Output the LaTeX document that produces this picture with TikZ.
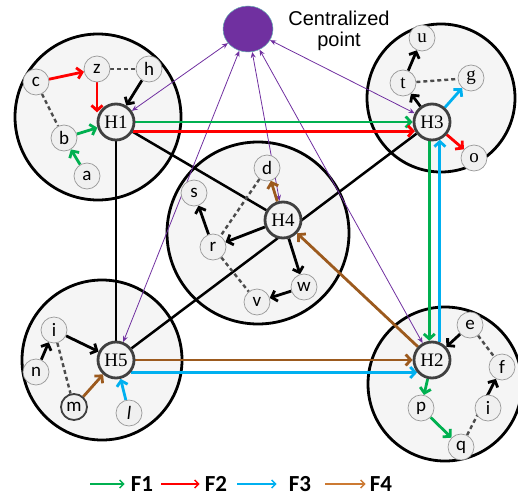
\documentclass[tikz,border=0pt]{standalone}
\usepackage{fontspec}
\setmainfont{Liberation Serif}
\newfontfamily\calfont{Carlito}
\newfontfamily\arialfont{Liberation Sans}
\usetikzlibrary{arrows.meta,calc,shapes.geometric}
\definecolor{fone}{HTML}{00B050}
\definecolor{ftwo}{HTML}{FF0000}
\definecolor{fthree}{HTML}{00B0F0}
\definecolor{ffour}{HTML}{9C5A1E}
\definecolor{ffourleg}{HTML}{CC7A33}
\definecolor{purp}{HTML}{7030A0}
\pgfdeclarelayer{bg}
\pgfdeclarelayer{edges}
\pgfsetlayers{bg,edges,main}
\begin{document}
\begin{tikzpicture}[x=1pt,y=-1pt,
 cluster/.style={circle,draw=black,line width=2.8pt,fill=black!4,minimum size=#1,inner sep=0pt},
 hub/.style={circle,draw=black!75,line width=2.8pt,fill=black!5,minimum size=36pt,inner sep=0pt,font=\fontsize{19}{19}\selectfont},
 leaf/.style={circle,draw=black!40,line width=0.7pt,fill=black!6,minimum size=26pt,inner sep=0pt,font=\calfont\fontsize{19}{19}\selectfont},
 serifleaf/.style={leaf,font=\fontsize{19}{19}\selectfont},
 flow/.style={line width=2.8pt,-{Straight Barb[length=5pt,width=11pt]}},
 blk/.style={flow,draw=black},
 link/.style={line width=2.5pt,draw=black},
 dsh/.style={line width=2.4pt,draw=black!70,dash pattern=on 4pt off 3pt},
 ctrl/.style={line width=0.8pt,draw=purp,{Stealth[length=6pt,width=5pt]}-{Stealth[length=6pt,width=5pt]}},
 legarrow/.style={line width=1.5pt,-{Straight Barb[length=4pt,width=8pt]}},
 legtext/.style={font=\calfont\bfseries\fontsize{23}{23}\selectfont,inner sep=2pt},
]
\useasboundingbox (0,0) rectangle (518,500);

% clusters
\begin{pgfonlayer}{bg}
\node[cluster=166pt] (C1) at (98,117) {};
\node[cluster=148pt] (C3) at (441,98) {};
\node[cluster=182pt] (C4) at (258,233) {};
\node[cluster=160pt] (C5) at (102,360) {};
\node[cluster=154pt] (C2) at (445,384) {};
\end{pgfonlayer}

% centralized point
\node[ellipse,fill=purp,draw=teal!60,line width=0.5pt,minimum width=50pt,minimum height=46pt] (P) at (248,29) {};
\node[font=\arialfont\fontsize{20}{21}\selectfont,align=center,inner sep=0pt] (Ptext) at (339,31) {Centralized\\point};

% hubs
\node[hub] (H1) at (116,122) {H1};
\node[hub] (H3) at (432,122) {H3};
\node[hub] (H4) at (283,220) {H4};
\node[hub] (H5) at (116,360) {H5};
\node[hub] (H2) at (432,360) {H2};

% H1 cluster
\node[leaf] (c) at (36,82) {c};
\node[leaf] (z) at (97,69) {z};
\node[leaf] (h) at (149,69) {h};
\node[leaf] (b) at (64,138) {b};
\node[leaf] (a) at (87,176) {a};
% H3 cluster
\node[serifleaf] (u) at (422,38) {u};
\node[serifleaf] (t) at (403,83) {t};
\node[serifleaf] (g) at (471,78) {g};
\node[serifleaf] (o) at (474,158) {o};
% H4 cluster
\node[leaf] (d) at (267,168) {d};
\node[leaf] (s) at (194,193) {s};
\node[leaf] (r) at (213,247) {r};
\node[leaf] (w) at (304,287) {w};
\node[leaf] (v) at (257,302) {v};
% H5 cluster
\node[leaf] (i) at (54,330) {i};
\node[leaf] (n) at (36,372) {n};
\node[leaf,draw=black!75,line width=1.8pt] (m) at (74,407) {m};
\node[leaf] (l) at (129,413) {\itshape l};
% H2 cluster
\node[leaf] (e) at (470,325) {e};
\node[leaf] (f) at (502,367) {f};
\node[leaf] (p) at (421,408) {p};
\node[leaf] (i2) at (488,408) {i};
\node[leaf] (q) at (461,447) {q};
\coordinate (qf) at ($(q)!0.55!(f)$);

\begin{pgfonlayer}{edges}
% inter-cluster black links
\draw[link] (H1) -- (H4);
\draw[link] (H1) -- (H5);
\draw[link] (H3) -- (H5);
% control links
\draw[ctrl] (P) -- (H1);
\draw[ctrl] (P) -- (H3);
\draw[ctrl] (P) -- (H4);
\draw[ctrl] (P) -- (H5);
\draw[ctrl] (P) -- (H2);
% H1 cluster
\draw[dsh] (z) -- (h);
\draw[dsh] (c) -- (b);
\draw[flow,ftwo] (c) -- (z);
\draw[flow,ftwo] (z) -- (z |- H1.150);
\draw[blk] (h) -- (H1);
\draw[flow,fone] (a) -- (b);
\draw[flow,fone] (b) -- (H1);
% H3 cluster
\draw[dsh] (t) -- (g);
\draw[blk] (H3) -- (t);
\draw[blk] (t) -- (u);
\draw[flow,fthree] (H3) -- (g);
\draw[flow,ftwo] (H3) -- (o);
% H4 cluster
\draw[dsh] (d) -- (r);
\draw[dsh] (r) -- (v);
\draw[flow,ffour] (H4) -- (d);
\draw[blk] (H4) -- (r);
\draw[blk] (r) -- (s);
\draw[blk] (H4) -- (w);
\draw[blk] (w) -- (v);
% H5 cluster
\draw[dsh] (i) -- (m);
\draw[blk] (n) -- (i);
\draw[blk] (i) -- (H5);
\draw[flow,ffour] (m) -- (H5);
\draw[flow,fthree] (l) -- (H5);
% H2 cluster
\draw[dsh] (e) -- (f);
\draw[blk] (e) -- (H2);
\draw[flow,fone] (H2) -- (p);
\draw[flow,fone] (p) -- (q);
\draw[dsh] (q) -- (qf);
\draw[blk] (qf) -- (f);
% flows between hubs
\draw[flow,fone] (H1) -- (H3);
\draw[flow,ftwo] (H1.-28) -- (H3.208);
\draw[flow,fone] (H3.262) -- (H2.98);
\draw[flow,fthree] (H2.66) -- (H3.294);
\draw[flow,ffour] (H5) -- (H2);
\draw[flow,fthree] (H5.-40) -- (H2.220);
\draw[flow,ffour] (H2) -- (H4);
\end{pgfonlayer}

% legend
\node[legtext] (F1) at (142,484) {F1};
\node[legtext] (F2) at (216,484) {F2};
\node[legtext] (F3) at (300,484) {F3};
\node[legtext] (F4) at (381,484) {F4};
\coordinate (S1) at (90,484);
\coordinate (S2) at (161,484);
\coordinate (S3) at (237,484);
\coordinate (S4) at (325,484);
\draw[legarrow,fone] (S1) -- ([xshift=-4pt]F1.west);
\draw[legarrow,ftwo] (S2) -- ([xshift=-3pt]F2.west);
\draw[legarrow,fthree] (S3) -- ([xshift=-10pt]F3.west);
\draw[legarrow,ffourleg] (S4) -- ([xshift=-2pt]F4.west);
\end{tikzpicture}
\end{document}
